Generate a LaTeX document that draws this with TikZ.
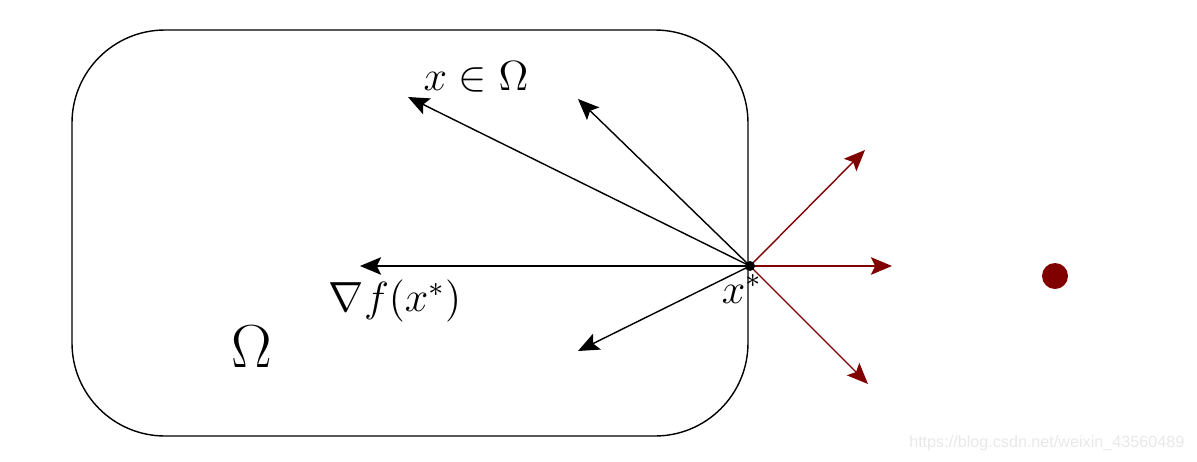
\documentclass[tikz,border=0pt]{standalone}
\usepackage{amsmath}
\usepackage{amssymb}
\usepackage{fontspec}
\newfontfamily\wmfont{Liberation Sans}
\usetikzlibrary{calc,arrows.meta}
\definecolor{darkred}{RGB}{128,0,0}

\begin{document}
\begin{tikzpicture}[x=1cm,y=1cm,
    vec/.style={->,>={Stealth[length=6pt,width=5pt,inset=1.2pt]},thin},
    outvec/.style={vec,darkred}]
    \useasboundingbox(0,0)rectangle(11.97,4.61);
    \draw[thin,rounded corners=0.93cm](0.72,0.25)rectangle(7.48,4.31);
    % point and directions
    \coordinate(xs)at(7.50,1.95);
    \coordinate(d1)at(4.08,3.64);
    \coordinate(d2)at(5.78,3.62);
    \coordinate(d3)at(3.60,1.95);
    \coordinate(d4)at(5.78,1.10);
    \coordinate(o1)at(8.65,3.11);
    \coordinate(o2)at(8.92,1.95);
    \coordinate(o3)at(8.68,0.77);
    \draw[vec](xs)--(d1);
    \draw[vec](xs)--(d2);
    \draw[vec](xs)--(d3);
    \draw[vec](xs)--(d4);
    \draw[outvec](xs)--(o1);
    \draw[outvec](xs)--(o2);
    \draw[outvec](xs)--(o3);
    \fill(xs)circle(0.05);
    \fill[darkred](10.55,1.85)circle(0.13);
    % labels
    \node(lx)at(4.76,3.84){\large$x\in\Omega$};
    \node(lg)at(3.95,1.60){\large$\nabla f(x^*)$};
    \node(ls)at(7.42,1.72){\large$x^*$};
    \node(lo)at(2.52,1.14){\LARGE$\Omega$};
    \node[gray!18,anchor=east,inner sep=0pt](wm)at(11.85,0.18){\wmfont\fontsize{4.6}{5}\selectfont https://blog.csdn.net/weixin\_43560489};
  \end{tikzpicture}
\end{document}
